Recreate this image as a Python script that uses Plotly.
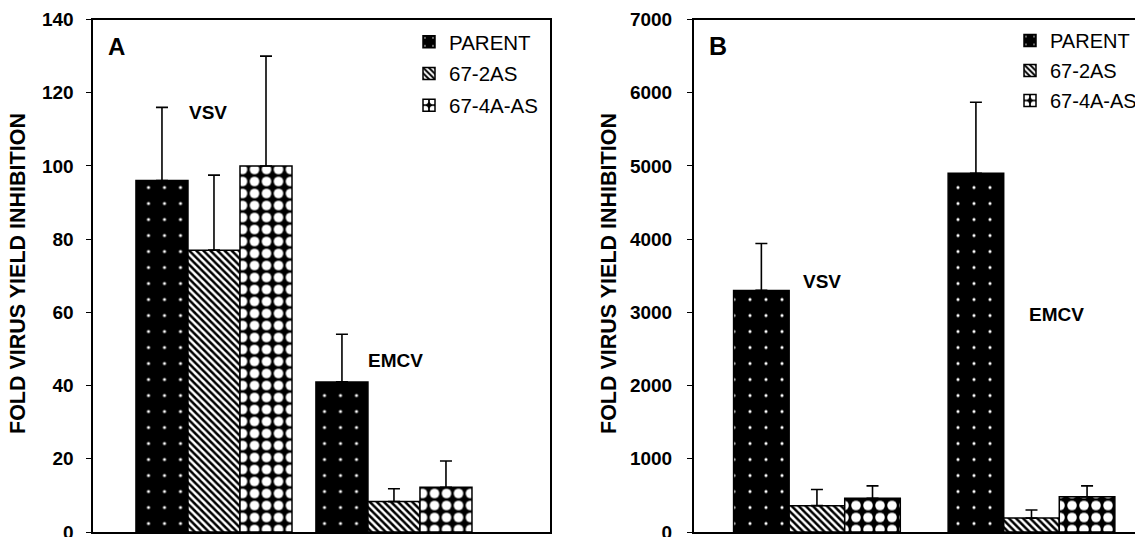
import plotly.graph_objects as go

W, H = 1143, 537
SHIFT = 8  # page offset of the plot div

groups = ["VSV", "EMCV"]
series = ["PARENT", "67-2AS", "67-4A-AS"]

# Panel A values and upper error bars
a_vals = {"PARENT": [96, 41], "67-2AS": [77, 8.3], "67-4A-AS": [100, 12.2]}
a_errs = {"PARENT": [20, 13], "67-2AS": [20.5, 3.5], "67-4A-AS": [30, 7.2]}

# Panel B values and upper error bars
b_vals = {"PARENT": [3300, 4900], "67-2AS": [360, 190], "67-4A-AS": [460, 480]}
b_errs = {"PARENT": [640, 970], "67-2AS": [220, 110], "67-4A-AS": [170, 150]}

a_ticks = [0, 20, 40, 60, 80, 100, 120, 140]
b_ticks = [0, 1000, 2000, 3000, 4000, 5000, 6000, 7000]

patterns = {
    "PARENT": dict(shape=".", fgcolor="white", fgopacity=1, size=16, solidity=0.03, fillmode="overlay"),
    "67-2AS": dict(shape="\\", fgcolor="black", fgopacity=1, size=5, solidity=0.5, fillmode="overlay"),
    "67-4A-AS": dict(shape=".", fgcolor="white", fgopacity=1, size=12, solidity=0.5, fillmode="overlay"),
}

FONT = "Arial, Liberation Sans, Helvetica, sans-serif"

def px(x):
    return (x - SHIFT) / W

def py(y):
    return 1 - (y - SHIFT) / H

fig = go.Figure()

def add_panel(vals, errs, xa, ya, legend, w):
    for i, s in enumerate(series):
        fig.add_trace(go.Bar(
            x=groups, y=vals[s], name=s,
            xaxis=xa, yaxis=ya, legend=legend, legendgroup=legend + s,
            width=w, offset=-1.5 * w + i * w,
            marker=dict(color="black" if s != "67-2AS" else "white",
                        pattern=patterns[s],
                        line=dict(color="black", width=1.5)),
            error_y=dict(type="data", symmetric=False, array=errs[s],
                         arrayminus=[0] * len(groups), color="black",
                         thickness=1.6, width=6),
        ))

add_panel(a_vals, a_errs, "x", "y", "legend", 0.289)
add_panel(b_vals, b_errs, "x2", "y2", "legend2", 0.259)

ydom = [py(532), py(19.5)]
tickfont = dict(family=FONT, size=19, color="black", weight="bold")

axis_common = dict(showgrid=False, zeroline=False, showline=True, automargin=False,
                   linecolor="black", linewidth=2)

fig.update_layout(
    width=W, height=H,
    margin=dict(l=0, r=0, t=0, b=0, autoexpand=False),
    paper_bgcolor="white", plot_bgcolor="white",
    barmode="group",
    showlegend=True,
    xaxis=dict(domain=[px(92.5), px(550)], range=[-0.675, 1.867],
               showticklabels=False, ticks="", mirror=True, **axis_common),
    yaxis=dict(domain=ydom, range=[0, 140], tickvals=a_ticks,
               ticks="outside", ticklen=5, tickcolor="black", tickwidth=1,
               tickfont=tickfont, mirror=True, ticklabelstandoff=8, **axis_common),
    xaxis2=dict(domain=[px(694), 1.0], range=[-0.573, 1.557], anchor="y2",
                showticklabels=False, ticks="", mirror=True, **axis_common),
    yaxis2=dict(domain=ydom, range=[0, 7000], tickvals=b_ticks, anchor="x2",
                ticks="outside", ticklen=5, tickcolor="black", tickwidth=1,
                tickfont=tickfont, mirror=False, ticklabelstandoff=11, **axis_common),
    legend=dict(x=px(409), y=1 - 14 / H, xanchor="left", yanchor="top",
                bgcolor="rgba(0,0,0,0)", tracegroupgap=2,
                font=dict(family=FONT, size=20.5, color="black")),
    legend2=dict(x=px(1010), y=1 - 13 / H, xanchor="left", yanchor="top",
                 bgcolor="rgba(0,0,0,0)", tracegroupgap=1,
                 font=dict(family=FONT, size=20, color="black")),
)

def ann(text, x, y, size=19, angle=0, xanchor="center"):
    fig.add_annotation(text=text, x=px(x), y=py(y), xref="paper", yref="paper",
                       showarrow=False, textangle=angle, xanchor=xanchor, yanchor="middle",
                       font=dict(family=FONT, size=size, color="black", weight="bold"))

ann("A", 106, 47, size=24, xanchor="left")
ann("B", 707, 46, size=25, xanchor="left")
ann("VSV", 208, 113)
ann("EMCV", 395, 360)
ann("VSV", 822, 281)
ann("EMCV", 1056, 314)
ann("FOLD VIRUS YIELD INHIBITION", 18, 274, size=21.5, angle=-90)
ann("FOLD VIRUS YIELD INHIBITION", 609, 274, size=21.5, angle=-90)

fig.write_html("out.html")
